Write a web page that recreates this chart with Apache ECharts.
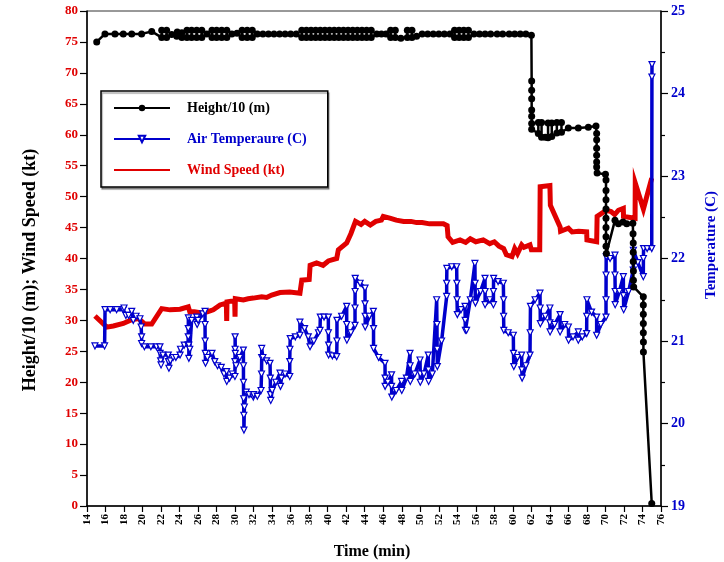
<!DOCTYPE html>
<html><head><meta charset="utf-8">
<script src="https://cdn.jsdelivr.net/npm/echarts@6/dist/echarts.min.js"></script>
<style>html,body{margin:0;padding:0;background:#fff}#c{width:724px;height:562px}</style>
</head><body><div id="c"></div>
<script>
// ---- data (time in min, value) ----
const seriesNames = ['Height/10 (m)', 'Air Temperaure (C)', 'Wind Speed (kt)'];
const timeRange = [14, 76, 2];      // min, max, step
const leftRange = [0, 80, 5];
const rightRange = [19, 25, 1];

const heightData = [
[15.05,75.0],[15.94,76.3],[17.02,76.3],[17.92,76.3],[18.83,76.3],[19.9,76.3],[20.99,76.7],
[22.07,75.7],[22.07,76.9],[22.6,76.9],[22.6,75.7],[23.15,76.2],[23.7,75.9],[23.75,76.6],[24.25,76.5],[24.25,75.7],
[24.8,75.7],[24.8,76.9],[25.3,76.9],[25.3,75.7],[25.85,75.7],[25.85,76.9],[26.4,76.9],[26.4,75.7],[26.95,76.3],
[27.5,75.7],[27.5,76.9],[28.0,76.9],[28.0,75.7],[28.55,75.7],[28.55,76.9],[29.1,76.9],[29.1,75.7],[29.65,76.3],
[30.2,76.4],[30.75,75.7],[30.75,76.9],[31.3,76.9],[31.3,75.7],[31.85,75.7],[31.85,76.9],[32.4,76.3],[33.0,76.3],
[33.6,76.3],[34.2,76.3],[34.8,76.3],[35.4,76.3],[36.0,76.3],[36.6,76.3],[37.2,75.7],[37.2,76.9],[37.7,76.9],
[37.7,75.7],[38.2,75.7],[38.2,76.9],[38.7,76.9],[38.7,75.7],[39.2,75.7],[39.2,76.9],[39.7,76.9],[39.7,75.7],
[40.2,75.7],[40.2,76.9],[40.7,76.9],[40.7,75.7],[41.2,75.7],[41.2,76.9],[41.7,76.9],[41.7,75.7],[42.2,75.7],
[42.2,76.9],[42.7,76.9],[42.7,75.7],[43.2,75.7],[43.2,76.9],[43.7,76.9],[43.7,75.7],[44.2,75.7],[44.2,76.9],
[44.7,76.9],[44.7,75.7],[45.3,76.3],[45.8,76.3],[46.3,76.3],[46.8,75.7],[46.8,76.9],[47.3,76.9],[47.3,75.7],
[47.9,75.6],[48.6,75.7],[48.6,76.9],[49.1,76.9],[49.1,75.7],[49.6,75.9],[50.2,76.3],[50.8,76.3],[51.4,76.3],
[52.0,76.3],[52.6,76.3],[53.2,76.3],[53.7,75.7],[53.7,76.9],[54.2,76.9],[54.2,75.7],[54.7,75.7],[54.7,76.9],
[55.2,76.9],[55.2,75.7],[55.8,76.3],[56.4,76.3],[57.0,76.3],[57.6,76.3],[58.3,76.3],[58.9,76.3],[59.6,76.3],
[60.2,76.3],[60.8,76.3],[61.4,76.3],[62.0,76.1],
[62.03,68.7],[62.03,67.2],[62.03,65.8],[62.03,64.0],[62.03,63.0],[62.03,61.8],[62.03,60.9],[62.75,60.2],
[62.75,62.0],[63.1,62.0],[63.1,59.6],[63.5,59.6],[63.8,59.5],[63.8,61.9],[64.2,61.9],[64.2,59.7],[64.75,60.3],
[64.75,62.0],[65.25,62.0],[65.25,60.4],[65.99,61.1],[67.07,61.1],[68.15,61.2],[68.98,61.4],[69.05,60.2],
[69.05,59.2],[69.05,57.8],[69.05,56.7],[69.05,55.6],[69.05,54.8],[69.1,53.8],[70.0,53.6],[70.06,52.7],
[70.06,51.0],[70.06,49.5],[70.06,48.0],[70.06,46.5],[70.06,45.0],[70.06,43.5],[70.06,42.0],[70.1,40.8],
[71.03,46.2],[71.4,45.6],[71.9,45.9],[72.3,45.6],[72.96,45.7],[72.98,44.0],[73.0,42.5],[73.0,41.0],[73.0,39.5],
[73.02,38.0],[73.02,36.5],[73.05,35.4],[74.09,33.8],[74.09,32.5],[74.09,31.0],[74.09,29.5],[74.09,28.0],
[74.1,26.5],[74.1,24.9],[75.0,0.4]
];

const tempData = [
[14.86,20.94],[15.9,20.94],[15.95,21.38],[16.5,21.38],[17.2,21.38],[17.92,21.38],[18.0,21.40],[18.2,21.31],
[18.5,21.31],[18.83,21.36],[19.0,21.25],[19.3,21.30],[19.72,21.27],[19.85,21.17],[19.9,21.05],[19.9,20.97],
[20.2,20.93],[20.9,20.93],[21.5,20.93],[21.88,20.93],[21.9,20.85],[21.95,20.76],[22.0,20.71],[22.2,20.83],
[22.78,20.83],[22.8,20.75],[22.85,20.67],[23.0,20.76],[23.3,20.80],[23.6,20.80],[24.05,20.83],[24.1,20.9],
[24.5,20.95],[24.9,20.95],[24.94,21.05],[24.94,21.15],[24.95,21.28],[25.0,20.95],[25.0,20.79],[25.1,20.9],
[25.3,21.25],[25.85,21.29],[25.9,21.2],[26.0,21.25],[26.5,21.33],[26.75,21.36],[26.75,21.2],[26.76,21.0],
[26.78,20.85],[26.8,20.73],[27.0,20.8],[27.5,20.85],[27.8,20.75],[28.1,20.7],[28.5,20.68],[28.8,20.6],
[29.08,20.63],[29.1,20.51],[29.4,20.55],[29.7,20.6],[29.98,20.57],[29.98,20.75],[30.0,20.9],[30.0,21.05],
[30.02,20.85],[30.1,20.7],[30.5,20.8],[30.89,20.89],[30.9,20.7],[30.9,20.5],[30.92,20.3],[30.94,20.1],
[30.95,19.92],[31.0,20.2],[31.2,20.38],[31.5,20.35],[31.96,20.32],[32.0,20.35],[32.4,20.33],[32.8,20.4],
[32.85,20.6],[32.87,20.8],[32.87,20.91],[33.0,20.8],[33.4,20.76],[33.77,20.73],[33.8,20.55],[33.82,20.35],
[33.85,20.28],[34.0,20.4],[34.4,20.5],[34.85,20.61],[34.9,20.45],[35.0,20.55],[35.4,20.6],[35.9,20.57],
[35.9,20.75],[35.92,20.9],[35.95,21.03],[36.5,21.05],[37.0,21.07],[37.0,21.23],[37.5,21.15],[37.9,21.05],
[38.09,20.93],[38.5,21.0],[39.0,21.1],[39.17,21.13],[39.2,21.29],[39.6,21.29],[40.07,21.29],[40.07,21.1],
[40.1,20.95],[40.1,20.83],[40.5,20.82],[40.97,20.81],[41.0,21.0],[41.0,21.25],[41.5,21.3],[42.05,21.42],
[42.05,21.2],[42.07,21.01],[42.5,21.1],[42.95,21.19],[42.95,21.4],[42.96,21.6],[42.97,21.76],[43.5,21.7],
[44.03,21.64],[44.03,21.45],[44.05,21.3],[44.05,21.17],[44.5,21.3],[44.93,21.36],[44.95,21.15],[44.95,20.91],
[45.5,20.8],[46.19,20.73],[46.2,20.55],[46.2,20.45],[46.5,20.5],[46.9,20.59],[46.9,20.45],[46.92,20.32],
[47.4,20.4],[47.98,20.51],[48.0,20.4],[48.5,20.55],[48.89,20.85],[48.9,20.7],[48.92,20.51],[49.4,20.6],
[49.97,20.77],[50.0,20.6],[50.0,20.5],[50.4,20.6],[50.86,20.83],[50.88,20.65],[50.9,20.51],[51.3,20.6],
[51.77,21.5],[51.8,21.2],[51.82,20.9],[51.84,20.69],[52.3,21.0],[52.85,21.54],[52.85,21.7],[52.87,21.88],
[53.4,21.9],[53.93,21.9],[53.95,21.7],[53.97,21.5],[54.0,21.32],[54.4,21.38],[54.83,21.42],[54.85,21.25],
[54.87,21.13],[55.0,21.13],[55.4,21.5],[55.9,21.94],[55.92,21.7],[55.95,21.46],[56.5,21.6],[56.99,21.76],
[57.0,21.6],[57.0,21.44],[57.5,21.5],[57.9,21.44],[57.9,21.6],[57.92,21.76],[58.4,21.72],[58.97,21.7],
[59.0,21.5],[59.0,21.3],[59.02,21.13],[59.5,21.1],[60.05,21.07],[60.07,20.85],[60.1,20.69],[60.5,20.8],
[60.95,20.83],[60.97,20.65],[61.0,20.55],[61.4,20.7],[61.85,20.83],[61.87,21.1],[61.9,21.42],[62.4,21.5],
[62.93,21.58],[62.95,21.4],[62.97,21.21],[63.5,21.3],[64.0,21.4],[64.0,21.22],[64.02,21.11],[64.5,21.2],
[65.1,21.32],[65.1,21.11],[65.6,21.2],[66.0,21.17],[66.02,21.01],[66.5,21.05],[67.07,21.11],[67.07,21.01],
[67.5,21.05],[67.97,21.09],[67.98,21.3],[68.0,21.5],[68.5,21.35],[69.05,21.29],[69.05,21.07],[69.5,21.2],
[70.06,21.29],[70.06,21.5],[70.07,21.8],[70.08,22.02],[70.5,22.0],[71.03,22.04],[71.03,21.8],[71.05,21.6],
[71.05,21.44],[71.5,21.6],[71.93,21.78],[71.95,21.55],[71.97,21.38],[72.5,21.6],[73.0,21.86],[73.02,22.1],
[73.5,21.95],[74.09,21.78],[74.1,22.0],[74.12,22.12],[74.5,22.12],[75.0,22.12],[75.02,24.2],[75.03,24.35]
];

const windData = [
[14.86,30.7],[16.13,28.9],[16.84,29.1],[17.92,29.5],[18.83,30.1],[19.55,30.3],[20.26,29.4],[20.99,29.4],
[22.07,31.9],[22.97,31.7],[24.05,31.8],[24.94,32.2],[25.1,31.4],[25.6,31.4],[26.39,31.2],[27.0,31.4],
[27.64,31.7],[28.37,32.5],[29.05,32.8],[29.09,29.9],[29.12,33.0],[29.95,33.2],[29.99,30.6],[30.02,33.5],
[30.89,33.3],[31.4,33.5],[31.96,33.6],[32.87,33.8],[33.4,33.7],[33.95,34.1],[34.85,34.5],[35.9,34.6],
[37.0,34.4],[37.2,36.5],[38.0,36.6],[38.1,38.9],[38.8,39.3],[39.5,38.9],[40.07,39.6],[40.97,40.0],
[41.15,41.4],[42.05,42.5],[42.5,44.0],[43.0,46.0],[43.6,45.5],[44.0,46.0],[44.6,45.4],[45.2,46.0],
[45.8,46.2],[46.0,46.8],[46.8,46.5],[47.4,46.2],[48.2,46.0],[49.0,46.0],[49.6,45.8],[50.2,45.8],
[51.0,45.6],[51.8,45.6],[52.5,45.6],[52.9,45.3],[53.0,43.5],[53.5,42.6],[54.3,43.0],[54.9,42.6],
[55.4,43.2],[56.0,42.7],[56.8,43.0],[57.5,42.4],[58.0,42.7],[58.5,42.0],[59.0,41.6],[59.3,40.6],
[59.9,40.3],[60.2,41.6],[60.5,40.8],[60.95,42.2],[61.2,41.8],[61.85,42.2],[62.0,41.4],[62.9,41.4],
[62.95,51.6],[64.0,51.8],[64.05,48.6],[65.1,45.1],[65.15,44.4],[66.0,44.9],[66.4,44.3],[67.1,44.4],
[67.97,44.3],[68.0,43.0],[69.05,42.7],[69.1,46.8],[70.1,47.8],[70.6,47.6],[71.0,47.1],[71.4,47.8],
[71.93,48.1],[71.95,46.8],[73.2,46.5],[73.22,52.2],[74.1,48.0],[75.0,53.0]
];

// ---- style ----
const FONT = "'Liberation Serif','Times New Roman',serif";
const RED = '#e00000', BLUE = '#0000cc', BLACK = '#000';

const chart = echarts.init(document.getElementById('c'), null, {renderer: 'canvas'});
chart.setOption({
  animation: false,
  backgroundColor: '#fff',
  grid: {left: 87, right: 63, top: 11, bottom: 56, show: true, borderColor: '#333', borderWidth: 1},
  legend: {
    orient: 'vertical', left: 101, top: 91,
    backgroundColor: '#fff', borderColor: '#000', borderWidth: 1.5,
    padding: [10, 21, 10, 12], itemWidth: 56, itemHeight: 8, itemGap: 17,
    shadowColor: 'rgba(0,0,0,0.35)', shadowOffsetX: 1, shadowOffsetY: 2, shadowBlur: 1,
    textStyle: {fontFamily: FONT, fontWeight: 'bold', fontSize: 14, padding: [0, 0, 0, 12]},
    data: [
      {name: seriesNames[0], textStyle: {color: BLACK}},
      {name: seriesNames[1], textStyle: {color: BLUE}},
      {name: seriesNames[2], textStyle: {color: RED}, itemStyle: {opacity: 0}}
    ]
  },
  xAxis: {
    type: 'value', min: timeRange[0], max: timeRange[1], interval: timeRange[2],
    axisLine: {lineStyle: {color: BLACK, width: 1.5}},
    axisTick: {show: true, length: 6, inside: false, lineStyle: {color: BLACK, width: 1.2}},
    axisLabel: {rotate: 90, margin: 8, color: BLACK, fontFamily: FONT, fontWeight: 'bold', fontSize: 11},
    splitLine: {show: false}
  },
  yAxis: [
    {
      type: 'value', min: leftRange[0], max: leftRange[1], interval: leftRange[2], position: 'left',
      axisLine: {show: true, lineStyle: {color: BLACK, width: 1.5}},
      axisTick: {show: true, length: 7, lineStyle: {color: BLACK, width: 1.2}},
      axisLabel: {margin: 9, color: RED, fontFamily: FONT, fontWeight: 'bold', fontSize: 13},
      splitLine: {show: false}
    },
    {
      type: 'value', min: rightRange[0], max: rightRange[1], interval: rightRange[2], position: 'right',
      axisLine: {show: true, lineStyle: {color: BLACK, width: 1.5}},
      axisTick: {show: true, length: 7, lineStyle: {color: BLACK, width: 1.2}},
      minorTick: {show: true, splitNumber: 2, length: 4, lineStyle: {color: BLACK, width: 1.2}},
      axisLabel: {margin: 10, color: BLUE, fontFamily: FONT, fontWeight: 'bold', fontSize: 14},
      splitLine: {show: false}
    }
  ],
  graphic: [
    {type: 'text', x: 30, y: 270, rotation: Math.PI / 2,
     style: {text: 'Height/10 (m); Wind Speed (kt)', fill: BLACK, font: 'bold 18px ' + FONT, align: 'center', verticalAlign: 'middle'}},
    {type: 'text', x: 711, y: 245, rotation: Math.PI / 2,
     style: {text: 'Temperature (C)', fill: BLUE, font: 'bold 15px ' + FONT, align: 'center', verticalAlign: 'middle'}},
    {type: 'text', x: 372, y: 552,
     style: {text: 'Time (min)', fill: BLACK, font: 'bold 16px ' + FONT, align: 'center', verticalAlign: 'middle'}}
  ],
  series: [
    {name: seriesNames[2], type: 'line', data: windData, symbol: 'none', z: 2,
     lineStyle: {color: RED, width: 5, join: 'miter'}, itemStyle: {color: RED}},
    {name: seriesNames[1], type: 'line', yAxisIndex: 1, data: tempData, z: 3,
     symbol: 'triangle', symbolRotate: 180, symbolSize: 6, showAllSymbol: true,
     itemStyle: {color: '#fff', borderColor: BLUE, borderWidth: 1.2},
     lineStyle: {color: BLUE, width: 3.5}},
    {name: seriesNames[0], type: 'line', data: heightData, z: 4,
     symbol: 'circle', symbolSize: 7, showAllSymbol: true,
     itemStyle: {color: BLACK}, lineStyle: {color: BLACK, width: 2.5}}
  ]
});
</script>
</body></html>
